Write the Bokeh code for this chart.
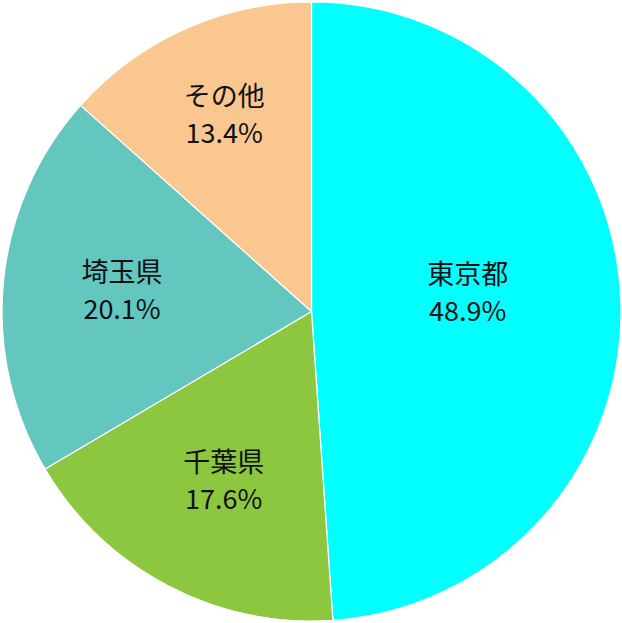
import numpy as np
from bokeh.plotting import figure
from bokeh.models import Range1d, ColumnDataSource
from bokeh.core.properties import value
from bokeh.embed import file_html
from bokeh.resources import INLINE

# data
categories = ["東京都", "千葉県", "埼玉県", "その他"]
shares = [48.9, 17.6, 20.1, 13.4]
colors = ["#00FFFF", "#8DC63F", "#63C6BF", "#F9C78F"]

# layout (label distance as fraction of radius, extra vertical shift in px)
R = 309.5
label_frac = [0.505, 0.61, 0.615, 0.69]
label_dy = [16, 0, 4, 4]

vals = np.array(shares, dtype=float)
frac = vals / vals.sum()
cum_end = np.cumsum(frac)
cum_start = cum_end - frac
start = np.pi / 2 - cum_start * 2 * np.pi
end = np.pi / 2 - cum_end * 2 * np.pi
mid = (start + end) / 2
lf = np.array(label_frac)
lx = R * lf * np.cos(mid)
ly = R * lf * np.sin(mid) + np.array(label_dy)

src = ColumnDataSource(dict(
    start=start, end=end, color=colors, lx=lx, ly=ly,
    name=categories, pct=[f"{v:.1f}%" for v in shares],
))

p = figure(width=622, height=623, output_backend="svg", toolbar_location=None,
           x_range=Range1d(-311, 311), y_range=Range1d(-312, 311),
           min_border=0, outline_line_color=None)
p.axis.visible = False
p.grid.visible = False
p.background_fill_color = "white"
p.border_fill_color = "white"

p.wedge(x=0, y=0, radius=R, start_angle="end", end_angle="start",
        fill_color="color", line_color="white", line_width=1.2, source=src)

font = value("Noto Sans CJK JP")
p.text(x="lx", y="ly", text="name", source=src, text_font=font,
       text_font_size="27px", text_align="center", text_baseline="middle",
       text_color="#111111", y_offset=-18)
p.text(x="lx", y="ly", text="pct", source=src, text_font=font,
       text_font_size="27px", text_align="center", text_baseline="middle",
       text_color="#111111", y_offset=19)

open("out.html", "w").write(file_html(p, INLINE))
